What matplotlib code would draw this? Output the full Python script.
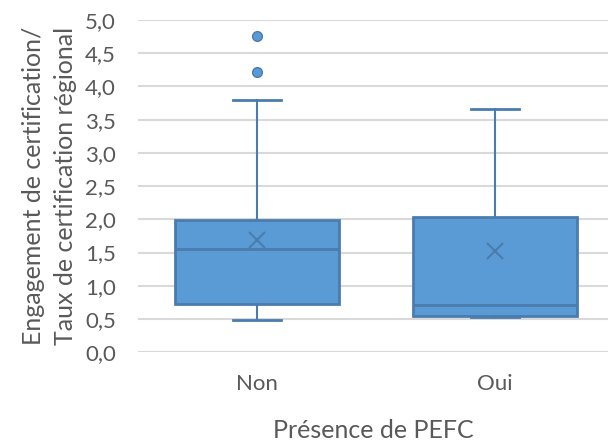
import matplotlib
matplotlib.use("Agg")
import matplotlib.pyplot as plt

categories = ["Non", "Oui"]
whislo = [0.49, 0.525]
q1 = [0.73, 0.55]
med = [1.56, 0.71]
q3 = [1.99, 2.04]
whishi = [3.79, 3.66]
means = [1.69, 1.52]
fliers = [[4.21, 4.76], []]

plt.rcParams['font.family'] = ['Lato', 'DejaVu Sans']

fill = '#5B9BD5'
edge = '#4A7CAE'

fig = plt.figure(figsize=(6.08, 4.43), dpi=100)
ax = fig.add_axes([0.227, 0.205, 0.773, 0.75])

stats = []
for i, c in enumerate(categories):
    stats.append(dict(label=c, whislo=whislo[i], q1=q1[i], med=med[i],
                      q3=q3[i], whishi=whishi[i], mean=means[i], fliers=fliers[i]))

ax.bxp(stats, positions=[1, 2], widths=0.687, patch_artist=True,
       showmeans=True, showfliers=True,
       boxprops=dict(facecolor=fill, edgecolor=edge, linewidth=2),
       medianprops=dict(color=edge, linewidth=2),
       whiskerprops=dict(color=edge, linewidth=1.5),
       capprops=dict(color=edge, linewidth=2),
       capwidths=0.2,
       meanprops=dict(marker='x', markeredgecolor=edge, markersize=12, markeredgewidth=1.5),
       flierprops=dict(marker='o', markerfacecolor=fill, markeredgecolor=edge,
                       markersize=7, markeredgewidth=1))

ax.set_xlim(0.5, 2.475)
ax.set_ylim(0, 5)
ax.set_yticks([i * 0.5 for i in range(11)])
ax.set_yticklabels([('%.1f' % (i * 0.5)).replace('.', ',') for i in range(11)])
ax.yaxis.grid(True, color='#D9D9D9', linewidth=1.5)
ax.set_axisbelow(True)
for s in ax.spines.values():
    s.set_visible(False)
ax.tick_params(axis='both', length=0, labelsize=16, colors='#595959')
ax.tick_params(axis='y', pad=16)
ax.tick_params(axis='x', pad=16)
ax.set_xlabel('Présence de PEFC', fontsize=18, color='#595959', labelpad=18)
ax.set_ylabel('Engagement de certification/\nTaux de certification régional',
              fontsize=18, color='#595959', labelpad=6, linespacing=1.45)

fig.savefig('out.png', dpi=100)
